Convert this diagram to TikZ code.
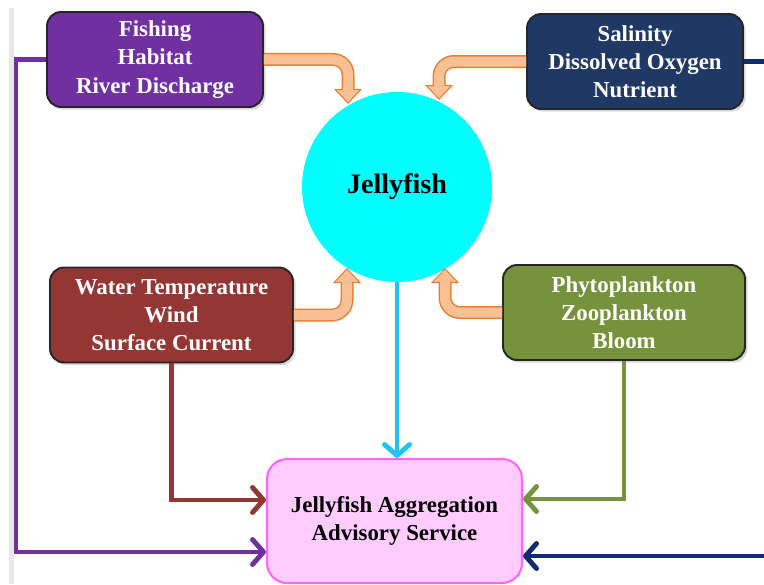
\documentclass[tikz,border=0pt]{standalone}
\usepackage{fontspec}
\setmainfont{Liberation Serif}
\usetikzlibrary{arrows.meta, shadows}
\definecolor{fishing-color}{RGB}{112,48,160}
\definecolor{salinity-color}{RGB}{31,56,100}
\definecolor{salinity-line}{RGB}{16,44,110}
\definecolor{weather-color}{RGB}{148,54,52}
\definecolor{plankton-color}{RGB}{118,146,60}
\definecolor{jelly-color}{RGB}{0,255,255}
\definecolor{jelly-line}{RGB}{32,196,244}
\definecolor{advisory-fill}{RGB}{255,204,255}
\definecolor{advisory-draw}{RGB}{255,102,255}
\definecolor{influence-fill}{RGB}{248,193,149}
\definecolor{influence-draw}{RGB}{237,125,49}

\begin{document}
\begin{tikzpicture}[
    factor/.style={rectangle, draw=black!85, fill=#1, rounded corners=8pt, minimum width=4.32cm, minimum height=1.9cm, align=center, text=white, font=\bfseries\fontsize{13}{16}\selectfont, line width=1.1pt, drop shadow={shadow xshift=1.5pt, shadow yshift=-1.5pt, opacity=0.3}},
    feed/.style={draw=#1, line width=2.8pt, -{Straight Barb[length=0.22cm, width=0.5cm, round]}},
    influence/.style={draw=influence-draw, line width=0.26cm, rounded corners=0.3cm, -{Triangle[length=0.3cm, width=0.56cm, line width=0.6pt, fill=influence-fill]}},
    influence core/.style={draw=influence-fill, line width=0.2cm, rounded corners=0.3cm, shorten >=0.27cm}]

    \useasboundingbox (0,0) rectangle (15.28,11.68);
    % thin grey margin on the left
    \fill[gray!18] (0.18,0) rectangle (0.28,11.52);

    % Jellyfish in the middle
    \node[circle, fill=jelly-color, minimum size=3.8cm, inner sep=0pt, font=\bfseries\fontsize{16}{19}\selectfont] (jelly) at (7.94,7.94) {Jellyfish};

    % Four groups of factors
    \node[factor=fishing-color] (fish) at (3.10,10.49) {Fishing\\Habitat\\River Discharge};
    \node[factor=salinity-color] (salt) at (12.70,10.45) {Salinity\\Dissolved Oxygen\\Nutrient};
    \node[factor=weather-color, minimum width=4.86cm] (weather) at (3.43,5.38) {Water Temperature\\Wind\\Surface Current};
    \node[factor=plankton-color, minimum width=4.84cm] (plankton) at (12.48,5.43) {Phytoplankton\\Zooplankton\\Bloom};

    % Advisory service at the bottom
    \node[rectangle, draw=advisory-draw, fill=advisory-fill, rounded corners=0.4cm, line width=1.2pt, minimum width=5.1cm, minimum height=2.48cm, align=center, font=\bfseries\fontsize{13}{16}\selectfont] (advice) at (7.89,1.26) {Jellyfish Aggregation\\Advisory Service};

    % Tips of the bent block arrows at the circle
    \coordinate (t1) at (6.96,9.60);
    \coordinate (t2) at (8.78,9.68);
    \coordinate (t3) at (6.94,6.32);
    \coordinate (t4) at (8.90,6.32);

    % Bent block arrows from the factors to the jellyfish
    \draw[influence] (fish.east) -| (t1);
    \draw[influence core] (fish.east) -| (t1);
    \draw[influence] (salt.west) -| (t2);
    \draw[influence core] (salt.west) -| (t2);
    \draw[influence] (weather.east) -| (t3);
    \draw[influence core] (weather.east) -| (t3);
    \draw[influence] (plankton.west) -| (t4);
    \draw[influence core] (plankton.west) -| (t4);

    % Lines feeding the advisory service
    \draw[feed=fishing-color] (fish.west) -- ++(-0.6,0) |- ([yshift=-0.62cm]advice.west);
    \draw[feed=salinity-line] (salt.east) -- ++(0.8,0) |- ([yshift=-0.70cm]advice.east);
    \draw[feed=weather-color] (weather.south) |- ([yshift=0.42cm]advice.west);
    \draw[feed=plankton-color] (plankton.south) |- ([yshift=0.44cm]advice.east);
    \draw[feed=jelly-line] (jelly.south) -- (jelly.south |- advice.north);
\end{tikzpicture}
\end{document}
